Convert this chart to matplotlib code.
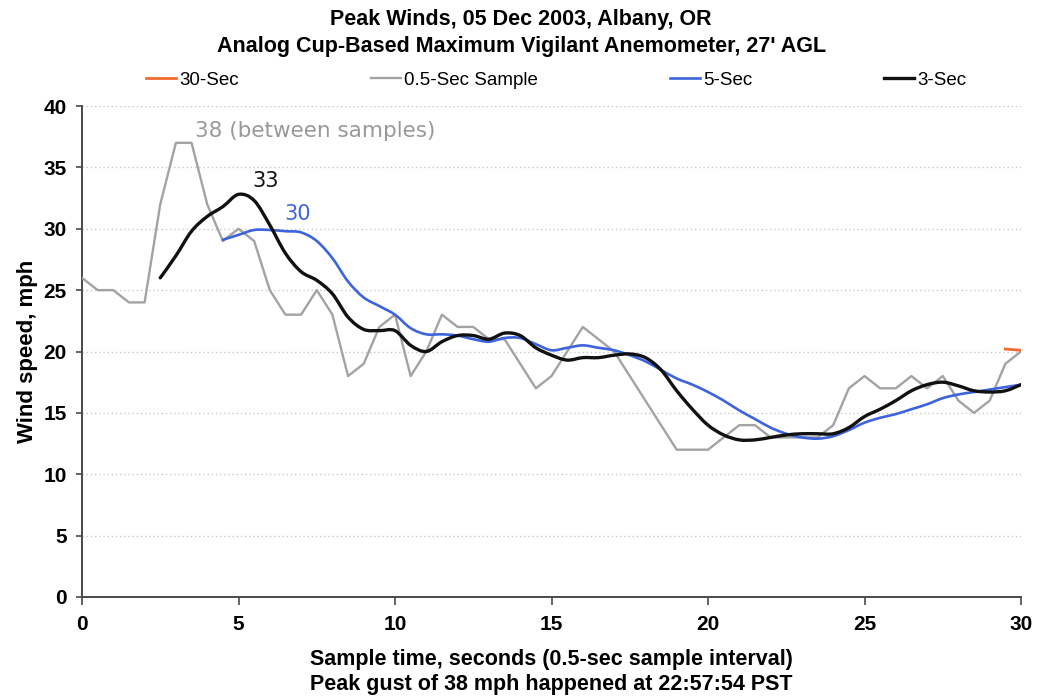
import numpy as np
import matplotlib
matplotlib.use("Agg")
import matplotlib.pyplot as plt
from matplotlib.path import Path
from matplotlib.patches import PathPatch
from matplotlib.lines import Line2D

# Wind speed readings, mph, one every 0.5 s
SAMPLE_INTERVAL = 0.5
sample_mph = [26, 25, 25, 24, 24, 32, 37, 37, 32, 29,
              30, 29, 25, 23, 23, 25, 23, 18, 19, 22,
              23, 18, 20, 23, 22, 22, 21, 21, 19, 17,
              18, 20, 22, 21, 20, 18, 16, 14, 12, 12,
              12, 13, 14, 14, 13, 13, 13, 13, 14, 17,
              18, 17, 17, 18, 17, 18, 16, 15, 16, 19,
              20]

# 3-second average, starting at 2.5 s
avg3_start = 2.5
avg3_mph = [26.0, 27.8, 29.8, 31.0, 31.8, 32.8, 32.3, 30.3, 28.0, 26.5,
            25.8, 24.7, 22.8, 21.8, 21.7, 21.7, 20.5, 20.0, 20.8, 21.3,
            21.3, 21.0, 21.5, 21.3, 20.3, 19.7, 19.3, 19.5, 19.5, 19.7,
            19.8, 19.5, 18.5, 16.8, 15.3, 14.0, 13.2, 12.8, 12.8, 13.0,
            13.2, 13.3, 13.3, 13.3, 13.8, 14.7, 15.3, 16.0, 16.8, 17.3,
            17.5, 17.2, 16.8, 16.7, 16.8, 17.3]

# 5-second average, starting at 4.5 s
avg5_start = 4.5
avg5_mph = [29.1, 29.5, 29.9, 29.9, 29.8, 29.7, 29.0, 27.6, 25.7, 24.4,
            23.7, 23.0, 21.9, 21.4, 21.4, 21.3, 21.0, 20.8, 21.1, 21.1,
            20.6, 20.1, 20.3, 20.5, 20.3, 20.1, 19.7, 19.2, 18.5, 17.8,
            17.3, 16.7, 16.0, 15.2, 14.5, 13.8, 13.3, 13.0, 12.9, 13.1,
            13.6, 14.2, 14.6, 14.9, 15.3, 15.7, 16.2, 16.5, 16.7, 16.9,
            17.1, 17.3]

# 30-second average, available only at the end of the record
avg30_start = 29.5
avg30_mph = [20.2, 20.1]

peak_gust = 38
peak_3s = 33
peak_5s = 30

x_ticks = [0, 5, 10, 15, 20, 25, 30]
y_ticks = [0, 5, 10, 15, 20, 25, 30, 35, 40]

C_30 = "#f26a2e"
C_RAW = "#a3a3a3"
C_5 = "#3d63dd"
C_3 = "#111111"


def times(start, values):
    return start + SAMPLE_INTERVAL * np.arange(len(values))


def smooth_path(x, y):
    """Cubic Bezier path passing through every point (spreadsheet-style smoothing)."""
    p = np.column_stack([x, y]).astype(float)
    ext = np.vstack([p[0], p, p[-1]])
    verts = [p[0]]
    codes = [Path.MOVETO]
    for i in range(len(p) - 1):
        p0, p1, p2, p3 = ext[i], ext[i + 1], ext[i + 2], ext[i + 3]
        verts += [p1 + (p2 - p0) / 6.0, p2 - (p3 - p1) / 6.0, p2]
        codes += [Path.CURVE4] * 3
    return Path(verts, codes)


plt.rcParams["font.family"] = ["Liberation Sans", "DejaVu Sans"]

fig = plt.figure(figsize=(10.38, 6.98), dpi=100)
ax = fig.add_axes([82 / 1038, 1 - 597 / 698, 939 / 1038, 491 / 698])

ax.plot(times(avg30_start, avg30_mph), avg30_mph, color=C_30, lw=2.0,
        zorder=6)
ax.plot(times(0.0, sample_mph), sample_mph, color=C_RAW, lw=1.7, zorder=3)
ax.add_patch(PathPatch(smooth_path(times(avg5_start, avg5_mph), avg5_mph),
                       facecolor="none", edgecolor=C_5, lw=1.9, zorder=4,
                       capstyle="round", joinstyle="round"))
ax.add_patch(PathPatch(smooth_path(times(avg3_start, avg3_mph), avg3_mph),
                       facecolor="none", edgecolor=C_3, lw=2.4, zorder=5,
                       capstyle="round", joinstyle="round"))

ax.set_xlim(0, 30)
ax.set_ylim(0, 40)
ax.set_xticks(x_ticks)
ax.set_yticks(y_ticks)
ax.grid(axis="y", color="#c8c8c8", linestyle=(0, (1, 2)), linewidth=1.0)
ax.set_axisbelow(True)

for side in ("top", "right"):
    ax.spines[side].set_visible(False)
for side in ("left", "bottom"):
    ax.spines[side].set_color("#4a4a4a")
    ax.spines[side].set_linewidth(1.4)

ax.tick_params(axis="both", direction="out", color="#4a4a4a", width=1.2,
               labelsize=15, pad=7)
ax.tick_params(axis="x", length=6)
ax.tick_params(axis="y", length=4)
for lab in ax.get_xticklabels() + ax.get_yticklabels():
    lab.set_fontweight("bold")

ax.set_ylabel("Wind speed, mph", fontsize=16, fontweight="bold", labelpad=4)
ax.set_xlabel("Sample time, seconds (0.5-sec sample interval)\n"
              "Peak gust of 38 mph happened at 22:57:54 PST",
              fontsize=15.5, fontweight="bold", labelpad=11, linespacing=1.2)

fig.text(0.502, 1 - 9 / 698, "Peak Winds, 05 Dec 2003, Albany, OR\n"
         "Analog Cup-Based Maximum Vigilant Anemometer, 27' AGL",
         ha="center", va="top", fontsize=15.5, fontweight="bold",
         linespacing=1.35)

ax.text(3.6, peak_gust, f"{peak_gust} (between samples)", color="#999999",
        fontsize=15.5, family="DejaVu Sans", va="center", ha="left")
ax.text(5.45, peak_3s + 0.9, f"{peak_3s}", color="#111111",
        fontsize=15, family="DejaVu Sans", va="center", ha="left")
ax.text(6.45, peak_5s + 1.2, f"{peak_5s}", color=C_5,
        fontsize=15, family="DejaVu Sans", va="center", ha="left")

handles = [Line2D([], [], color=C_30, lw=2.0),
           Line2D([], [], color=C_RAW, lw=1.7),
           Line2D([], [], color=C_5, lw=1.9),
           Line2D([], [], color=C_3, lw=2.4)]
labels = ["30-Sec", "0.5-Sec Sample", "5-Sec", "3-Sec"]
ax.legend(handles, labels, loc="center left",
          bbox_to_anchor=(146 / 1038, 1 - 80 / 698),
          bbox_transform=fig.transFigure, ncol=4, frameon=False,
          fontsize=13.5, handlelength=1.6, handletextpad=0.2,
          columnspacing=7.0, borderaxespad=0, borderpad=0)

fig.savefig("out.png", dpi=100)
